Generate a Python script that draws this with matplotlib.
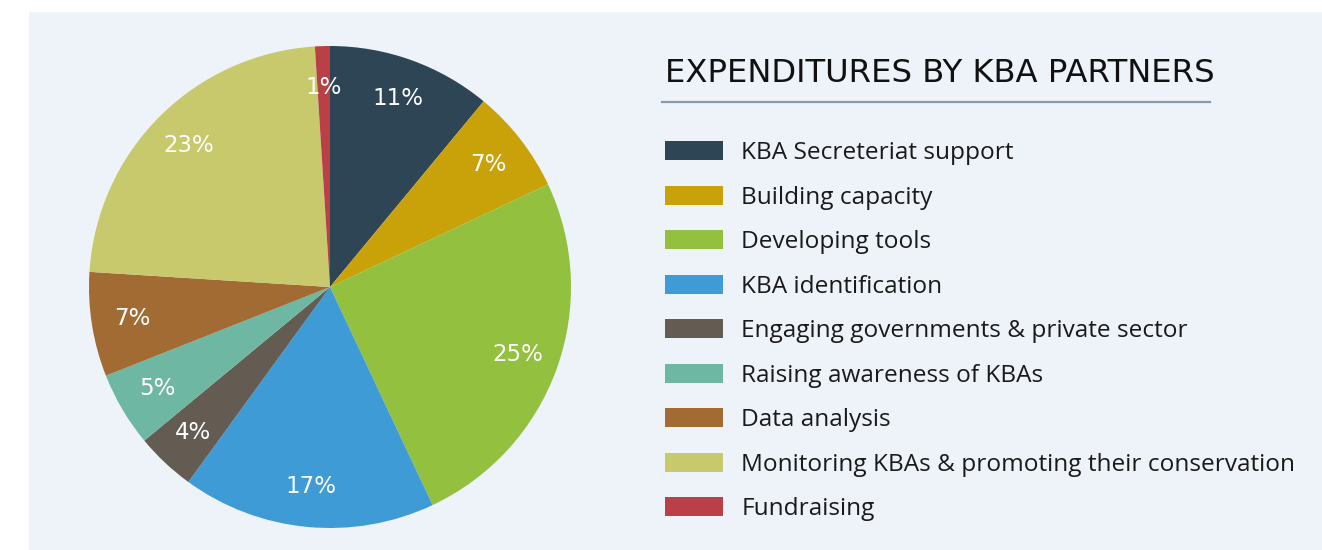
import matplotlib
matplotlib.use("Agg")
import matplotlib.pyplot as plt
from matplotlib.patches import Patch, Rectangle
from matplotlib.lines import Line2D

categories = ["KBA Secreteriat support", "Building capacity", "Developing tools",
              "KBA identification", "Engaging governments & private sector",
              "Raising awareness of KBAs", "Data analysis",
              "Monitoring KBAs & promoting their conservation", "Fundraising"]
shares = [11, 7, 25, 17, 4, 5, 7, 23, 1]
colors = ["#2e4556", "#c9a20a", "#93c13f", "#3e9bd6", "#645c52",
          "#6db7a3", "#a26b33", "#c8c96c", "#b84046"]
title = "EXPENDITURES BY KBA PARTNERS"

W, H = 1322, 550
fig = plt.figure(figsize=(W / 100, H / 100), dpi=100)
fig.patch.set_facecolor("white")

# light panel behind everything
fig.patches.append(Rectangle((29 / W, 0), 1 - 29 / W, 538 / H, transform=fig.transFigure,
                             facecolor="#eef3fa", edgecolor="none", zorder=-5))

cx, cy, r = 330, 287, 241
ax = fig.add_axes([(cx - r) / W, (H - cy - r) / H, 2 * r / W, 2 * r / H], zorder=2)
ax.set_facecolor("none")
wedges, texts, autotexts = ax.pie(shares, colors=colors, startangle=90, counterclock=False,
                                  autopct=lambda p: "%d%%" % round(p), pctdistance=0.83,
                                  wedgeprops=dict(linewidth=0))
for t in autotexts:
    t.set_color("white")
    t.set_fontsize(16.5)
    t.set_fontfamily("DejaVu Sans")
ax.set_xlim(-1, 1)
ax.set_ylim(-1, 1)
ax.set_aspect("equal")
ax.axis("off")

fig.text(665 / W, 1 - 74 / H, title, fontsize=23.2, color="#111111", va="center", ha="left",
         family="DejaVu Sans")
fig.add_artist(Line2D([662 / W, 1210 / W], [1 - 102 / H, 1 - 102 / H], color="#8a9aab",
                      linewidth=1.6, transform=fig.transFigure))

handles = [Patch(facecolor=c, edgecolor="none") for c in colors]
leg = fig.legend(handles, categories, loc="upper left", bbox_to_anchor=(665 / W, 1 - 141 / H),
                 frameon=False, prop=dict(family="Open Sans", size=17.6),
                 handlelength=2.38, handleheight=0.82, handletextpad=0.74,
                 labelspacing=0.84, borderaxespad=0, borderpad=0)
for t in leg.get_texts():
    t.set_color("#1a1a1a")

fig.savefig("out.png", dpi=100, facecolor=fig.get_facecolor())
